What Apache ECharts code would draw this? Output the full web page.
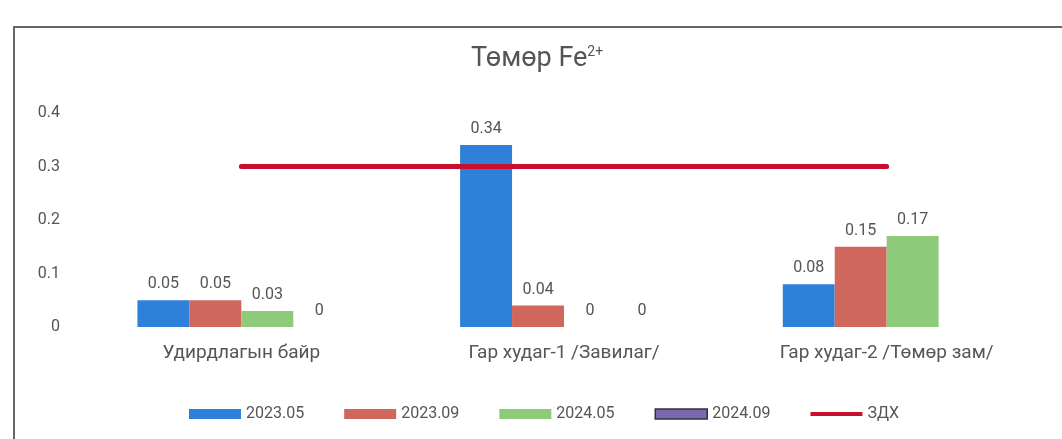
<!DOCTYPE html>
<html><head><meta charset="utf-8">
<script src="https://cdn.jsdelivr.net/npm/echarts@6/dist/echarts.min.js"></script>
<style>html,body{margin:0;padding:0;background:#fff}#c{width:1062px;height:439px}</style>
</head><body><div id="c"></div>
<script>
const categories = ['Удирдлагын байр', 'Гар худаг-1 /Завилаг/', 'Гар худаг-2 /Төмөр зам/'];
const s2023_05 = [0.05, 0.34, 0.08];
const s2023_09 = [0.05, 0.04, 0.15];
const s2024_05 = [0.03, 0, 0.17];
const s2024_09 = [0, 0, null];
const zdh = [0.3, 0.3, 0.3];
const yTicks = [0, 0.1, 0.2, 0.3, 0.4];

const FONT = "Roboto,'Noto Sans',sans-serif";
const chart = echarts.init(document.getElementById('c'), null, {renderer: 'canvas'});
const lbl = {show: true, position: 'top', distance: 8, color: '#555', fontSize: 16, fontFamily: FONT};
function bar(name, data, color) {
  return {name, type: 'bar', data, barGap: '0%', barCategoryGap: '35.6%',
    itemStyle: {color}, label: lbl};
}
chart.setOption({
  backgroundColor: '#fff',
  animation: false,
  graphic: [{type: 'rect', shape: {x: 14, y: 27, width: 1200, height: 600},
    style: {fill: 'none', stroke: '#666', lineWidth: 2}, z: 100}],
  title: {text: 'Төмөр Fe{s|2+}', left: 466, top: 40,
    textStyle: {color: '#555', fontSize: 27, fontWeight: 'normal', fontFamily: FONT,
      rich: {s: {fontSize: 14, color: '#555', verticalAlign: 'top', padding: [0, 0, 14, 0], fontFamily: FONT}}}},
  legend: {left: 184, top: 401, itemWidth: 52, itemHeight: 10, itemGap: 40, icon: 'rect',
    textStyle: {color: '#555', fontSize: 16, fontFamily: FONT},
    data: [{name: '2023.05', icon: 'rect'}, {name: '2023.09', icon: 'rect'}, {name: '2024.05', icon: 'rect'},
      {name: '2024.09', icon: 'rect', itemStyle: {borderColor: '#333', borderWidth: 1.5}},
      {name: 'ЗДХ', icon: 'path://M0,0 L52,0 L52,4 L0,4 Z', itemStyle: {color: '#c8102e'}}]},
  grid: {left: 80, right: 14, top: 113, bottom: 112},
  xAxis: {type: 'category', data: categories,
    axisLine: {show: false}, axisTick: {show: false},
    axisLabel: {color: '#555', fontSize: 19, fontFamily: FONT, margin: 17}},
  yAxis: {type: 'value', min: yTicks[0], max: yTicks[yTicks.length - 1], interval: 0.1,
    splitLine: {show: false}, axisLine: {show: false}, axisTick: {show: false},
    axisLabel: {color: '#555', fontSize: 16, fontFamily: FONT, margin: 20,
      formatter: v => String(Math.round(v * 10) / 10)}},
  series: [
    bar('2023.05', s2023_05, '#2f80d8'),
    bar('2023.09', s2023_09, '#cf675d'),
    bar('2024.05', s2024_05, '#8dca7a'),
    bar('2024.09', s2024_09, '#7b68b0'),
    {name: 'ЗДХ', type: 'line', data: zdh, symbol: 'none', z: 10,
      lineStyle: {color: '#c8102e', width: 5, cap: 'round'}, itemStyle: {color: '#c8102e'}}
  ]
});
</script></body></html>
